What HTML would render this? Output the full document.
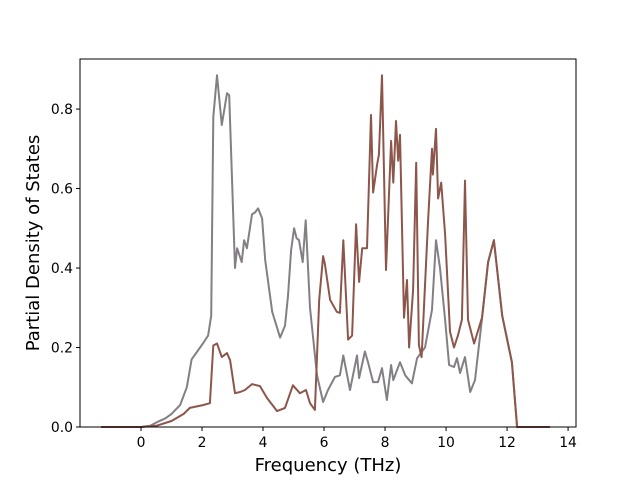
<!DOCTYPE html>
<html><head><meta charset="utf-8"><style>
body{margin:0;background:#fff;width:640px;height:480px;overflow:hidden}
svg text{font-family:"DejaVu Sans","Liberation Sans",sans-serif;fill:#000}
</style></head><body>
<svg id="chart" width="640" height="480" xmlns="http://www.w3.org/2000/svg">
<rect x="0" y="0" width="640" height="480" fill="#fff"/>
<g id="plot"></g>
<rect x="80" y="59" width="496" height="368" fill="none" stroke="#000" stroke-width="1"/>
<g id="axes"></g>
<text x="328" y="471" font-size="18" text-anchor="middle">Frequency (THz)</text>
<text transform="translate(39,243) rotate(-90)" font-size="18" text-anchor="middle">Partial Density of States</text>
</svg>
<script>
const xTicks=[0,2,4,6,8,10,12,14];
const yTicks=[0.0,0.2,0.4,0.6,0.8];
const yTickLabels=["0.0","0.2","0.4","0.6","0.8"];
const grayFreq=[-1.31,0,0.3,0.52,0.8,1.0,1.28,1.5,1.66,2.03,2.2,2.3,2.37,2.49,2.65,2.82,2.89,3.08,3.15,3.3,3.38,3.47,3.64,3.74,3.84,3.97,4.07,4.3,4.56,4.72,4.82,4.92,5.02,5.1,5.18,5.3,5.4,5.54,5.77,5.97,6.13,6.36,6.52,6.63,6.85,7.08,7.15,7.34,7.44,7.61,7.77,7.9,8.06,8.2,8.27,8.49,8.66,8.88,9.05,9.31,9.54,9.67,9.8,9.97,10.1,10.26,10.36,10.46,10.62,10.79,10.95,11.21,11.38,11.57,11.84,12.16,12.33,13.4];
const grayDos=[0,0,0.003,0.012,0.022,0.033,0.055,0.1,0.17,0.21,0.23,0.28,0.78,0.885,0.76,0.84,0.835,0.40,0.45,0.415,0.47,0.45,0.535,0.54,0.55,0.525,0.42,0.29,0.225,0.255,0.33,0.445,0.5,0.475,0.47,0.415,0.52,0.30,0.13,0.063,0.093,0.126,0.13,0.18,0.093,0.18,0.123,0.19,0.163,0.113,0.113,0.148,0.068,0.156,0.118,0.163,0.13,0.11,0.173,0.2,0.295,0.47,0.40,0.27,0.156,0.151,0.173,0.136,0.176,0.088,0.118,0.295,0.415,0.47,0.28,0.163,0,0];
const brownFreq=[-1.31,0,0.5,1.0,1.4,1.6,2.03,2.26,2.37,2.49,2.65,2.82,2.92,3.08,3.25,3.41,3.64,3.9,4.13,4.46,4.72,4.98,5.21,5.41,5.54,5.7,5.84,5.97,6.03,6.2,6.42,6.52,6.63,6.79,6.92,7.05,7.15,7.25,7.41,7.54,7.61,7.74,7.8,7.9,8.03,8.2,8.27,8.36,8.43,8.49,8.62,8.72,8.79,8.92,9.02,9.11,9.2,9.41,9.54,9.57,9.67,9.74,9.84,9.97,10.13,10.26,10.39,10.52,10.62,10.72,10.92,11.18,11.38,11.57,11.84,12.16,12.33,13.4];
const brownDos=[0,0.0,0.003,0.015,0.033,0.048,0.055,0.06,0.205,0.21,0.176,0.186,0.168,0.085,0.088,0.093,0.108,0.103,0.073,0.04,0.048,0.105,0.085,0.093,0.06,0.043,0.32,0.43,0.41,0.32,0.29,0.287,0.47,0.22,0.23,0.51,0.365,0.45,0.45,0.785,0.59,0.66,0.685,0.885,0.395,0.72,0.615,0.77,0.67,0.735,0.275,0.37,0.2,0.345,0.665,0.206,0.176,0.52,0.7,0.635,0.75,0.575,0.615,0.485,0.24,0.2,0.23,0.27,0.62,0.27,0.21,0.275,0.415,0.47,0.28,0.163,0,0];
const X0=80,X1=576,Y0=427,Y1=59,xmin=-2.0,xmax=14.26,ymin=0,ymax=0.926;
const sx=v=>X0+(v-xmin)/(xmax-xmin)*(X1-X0);
const sy=v=>Y0-(v-ymin)/(ymax-ymin)*(Y0-Y1);
const NS="http://www.w3.org/2000/svg";
const plot=document.getElementById('plot'),axes=document.getElementById('axes');
function line(fs,ds,color,name){
  const p=document.createElementNS(NS,'path');
  p.setAttribute('d',fs.map((f,i)=>(i?'L':'M')+sx(f).toFixed(1)+','+sy(ds[i]).toFixed(1)).join(''));
  p.setAttribute('fill','none');p.setAttribute('stroke',color);p.setAttribute('stroke-width','2');p.setAttribute('stroke-linejoin','round');
  
  
  plot.appendChild(p);
}
line(grayFreq,grayDos,'#837f84','gray-series-line');
line(brownFreq,brownDos,'#8c564b','brown-series-line');
xTicks.forEach(t=>{
  const x=sx(t);
  const l=document.createElementNS(NS,'line');
  l.setAttribute('x1',x);l.setAttribute('x2',x);l.setAttribute('y1',Y0);l.setAttribute('y2',Y0+4);l.setAttribute('stroke','#000');
  
  
  axes.appendChild(l);
  const tx=document.createElementNS(NS,'text');
  tx.setAttribute('x',x);tx.setAttribute('y',Y0+20);tx.setAttribute('font-size','13.9');tx.setAttribute('text-anchor','middle');
  tx.textContent=String(t);
  
  
  axes.appendChild(tx);
});
yTicks.forEach((t,i)=>{
  const y=sy(t);
  const l=document.createElementNS(NS,'line');
  l.setAttribute('x1',X0-4);l.setAttribute('x2',X0);l.setAttribute('y1',y);l.setAttribute('y2',y);l.setAttribute('stroke','#000');
  
  
  axes.appendChild(l);
  const tx=document.createElementNS(NS,'text');
  tx.setAttribute('x',X0-7);tx.setAttribute('y',y+5);tx.setAttribute('font-size','13.9');tx.setAttribute('text-anchor','end');
  tx.textContent=yTickLabels[i];
  
  
  axes.appendChild(tx);
});
</script>
</body></html>
